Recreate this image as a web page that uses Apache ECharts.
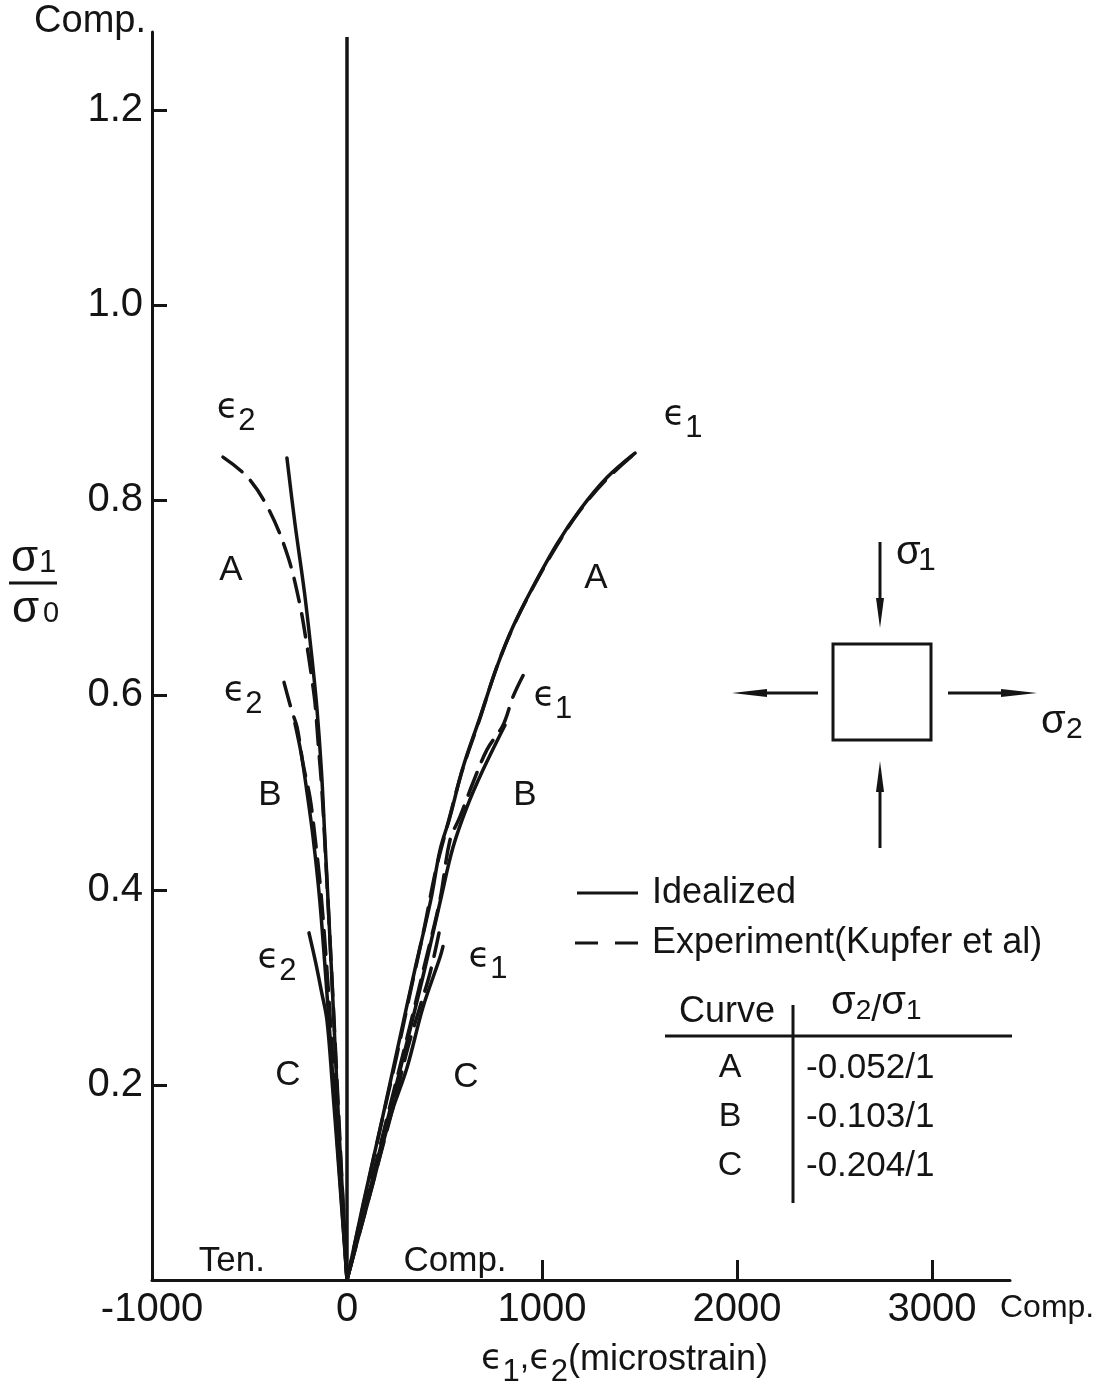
<!DOCTYPE html>
<html>
<head>
<meta charset="utf-8">
<title>Biaxial stress-strain curves</title>
<script src="https://cdn.jsdelivr.net/npm/echarts@6/dist/echarts.min.js"></script>
<style>
  html, body { margin: 0; padding: 0; background: #fff; }
  #chart { width: 1097px; height: 1397px; }
</style>
</head>
<body>
<div id="chart"></div>
<script>
// strain (microstrain) vs sigma1/sigma0
const xTicks = [-1000, 0, 1000, 2000, 3000];
const yTicks = [0.2, 0.4, 0.6, 0.8, 1.0, 1.2];

// eps2 side (tension)
const aEps2Ideal = [[-308,0.843],[-267,0.776],[-218,0.705],[-182,0.642],[-155,0.588],[-131,0.522],[-113,0.451],[-90,0.36],[-66,0.26],[-40,0.15],[-18,0.07],[0,0]];
const aEps2Exp = [[-636,0.844],[-508,0.823],[-395,0.788],[-303,0.742],[-243,0.694],[-205,0.650],[-179,0.615],[-164,0.592],[-149,0.554],[-128,0.50],[-106,0.42],[-80,0.32],[-55,0.22],[-28,0.11],[0,0]];
const bEps2Ideal = [[-267,0.571],[-235,0.54],[-205,0.50],[-174,0.454],[-140,0.39],[-105,0.30],[-70,0.20],[-35,0.10],[0,0]];
const bEps2Exp = [[-323,0.613],[-282,0.583],[-256,0.567],[-226,0.530],[-190,0.495],[-164,0.454],[-135,0.40],[-100,0.31],[-68,0.21],[-34,0.105],[0,0]];
const cEps2Ideal = [[-195,0.356],[-160,0.325],[-130,0.295],[-103,0.267],[-75,0.20],[-48,0.13],[-22,0.06],[0,0]];

// eps1 side (compression)
const aEps1Ideal = [[1477,0.848],[1333,0.823],[1195,0.790],[1077,0.755],[954,0.711],[851,0.670],[769,0.629],[682,0.577],[595,0.526],[528,0.475],[477,0.441],[430,0.39],[350,0.32],[262,0.24],[175,0.16],[85,0.08],[0,0]];
const aEps1Exp = [[1460,0.845],[1330,0.821],[1190,0.788],[1075,0.753],[950,0.709],[848,0.668],[765,0.627],[680,0.575],[590,0.522],[520,0.47],[455,0.42],[395,0.36],[330,0.30],[255,0.23],[170,0.155],[85,0.078],[0,0]];
const bEps1Ideal = [[810,0.569],[697,0.523],[615,0.485],[544,0.444],[480,0.39],[400,0.32],[315,0.25],[215,0.17],[110,0.087],[0,0]];
const bEps1Exp = [[903,0.62],[851,0.598],[800,0.569],[718,0.544],[646,0.510],[579,0.475],[528,0.451],[477,0.39],[400,0.325],[310,0.25],[210,0.17],[105,0.085],[0,0]];
const cEps1Ideal = [[492,0.342],[477,0.331],[390,0.28],[308,0.218],[221,0.167],[133,0.099],[60,0.045],[0,0]];
const cEps1Exp = [[472,0.356],[426,0.315],[374,0.280],[313,0.239],[240,0.18],[160,0.12],[80,0.06],[0,0]];

const zeroLine = [[0,0],[0,1.275]];

const tableCurves = ['A', 'B', 'C'];
const tableRatios = ['-0.052/1', '-0.103/1', '-0.204/1'];

// text placed on the plot, in data units
const notes = [
  [-569, 0.881, '{e|ϵ}{s|2}'],
  [-595, 0.728, '{t|A}'],
  [-533, 0.590, '{e|ϵ}{s|2}'],
  [-395, 0.497, '{t|B}'],
  [-359, 0.316, '{e|ϵ}{s|2}'],
  [-303, 0.210, '{t|C}'],
  [1723, 0.873, '{e|ϵ}{s|1}'],
  [1277, 0.720, '{t|A}'],
  [1056, 0.585, '{e|ϵ}{s|1}'],
  [913, 0.497, '{t|B}'],
  [723, 0.318, '{e|ϵ}{s|1}'],
  [610, 0.208, '{t|C}'],
  [-590, 0.0195, '{t|Ten.}'],
  [554, 0.0195, '{t|Comp.}']
];

const ink = '#141414';
const font = '"Liberation Sans", Arial, sans-serif';
const epsFont = '"DejaVu Sans", sans-serif';

const subRich = {
  e: { fontFamily: epsFont, fontSize: 35, lineHeight: 30, verticalAlign: 'top', color: ink },
  s: { fontFamily: font, fontSize: 31, lineHeight: 60, color: ink },
  t: { fontFamily: font, fontSize: 35, color: ink },
  c: { fontFamily: font, fontSize: 34, lineHeight: 40, verticalAlign: 'top', color: ink }
};

const curve = (name, data, dashed) => ({
  name,
  type: 'line',
  data,
  smooth: 0.35,
  symbol: 'none',
  silent: true,
  lineStyle: { color: ink, width: 3.5, type: dashed ? [24, 12] : 'solid', cap: 'round', join: 'round' }
});

const txt = (x, y, text, size, extra) => ({
  type: 'text',
  silent: true,
  style: Object.assign({
    x, y, text,
    fill: ink,
    fontFamily: font,
    fontSize: size,
    align: 'left',
    verticalAlign: 'middle'
  }, extra || {})
});
const seg = (x1, y1, x2, y2, w) => ({
  type: 'line',
  silent: true,
  shape: { x1, y1, x2, y2 },
  style: { stroke: ink, lineWidth: w || 3 }
});
const head = (pts) => ({
  type: 'polygon',
  silent: true,
  shape: { points: pts },
  style: { fill: ink }
});

const graphics = [
  // y axis title
  txt(11, 559, 'σ', 44),
  txt(39, 563, '1', 31),
  seg(9, 583, 57, 583),
  txt(12, 610, 'σ', 44),
  txt(43, 614, '0', 29),
  // axis end words
  txt(146, 22, 'Comp.', 38, { align: 'right' }),
  txt(1000, 1308, 'Comp.', 32),
  // x axis title
  txt(481, 1372, '{e|ϵ}{s|1}{c|,}{e|ϵ}{s|2}{t|(microstrain)}', 34, { rich: Object.assign({}, subRich, { t: { fontFamily: font, fontSize: 36, lineHeight: 40, verticalAlign: 'top', color: ink } }) }),
  // legend
  seg(577, 893, 638, 893),
  txt(652, 893, 'Idealized', 36),
  seg(575, 943, 598, 943),
  seg(615, 943, 638, 943),
  txt(652, 943, 'Experiment(Kupfer et al)', 36),
  // table
  txt(727, 1012, 'Curve', 36, { align: 'center' }),
  txt(831, 1011, '{g|σ}{s|2}{t|/}{g|σ}{s|1}', 36, { rich: {
    g: { fontFamily: font, fontSize: 40, lineHeight: 30, verticalAlign: 'top', color: ink },
    s: { fontFamily: font, fontSize: 28, lineHeight: 56, color: ink },
    t: { fontFamily: font, fontSize: 36, lineHeight: 56, color: ink }
  } }),
  seg(665, 1036, 1012, 1036),
  seg(793, 1005, 793, 1203),
  // stress element diagram
  {
    type: 'rect', silent: true,
    shape: { x: 833, y: 644, width: 98, height: 96 },
    style: { fill: 'none', stroke: ink, lineWidth: 3 }
  },
  seg(880, 542, 880, 600),
  head([[876, 598], [884, 598], [880, 628]]),
  seg(880, 848, 880, 790),
  head([[876, 792], [884, 792], [880, 761]]),
  seg(818, 693, 765, 693),
  head([[767, 689], [767, 697], [732, 693]]),
  seg(948, 693, 1003, 693),
  head([[1001, 689], [1001, 697], [1037, 693]]),
  txt(896, 553, 'σ', 40),
  txt(918, 561, '1', 32),
  txt(1041, 722, 'σ', 40),
  txt(1066, 730, '2', 30)
];

tableCurves.forEach((c, i) => {
  const y = 1068 + i * 49;
  graphics.push(txt(730, y, c, 34, { align: 'center' }));
  graphics.push(txt(806, y, tableRatios[i], 35));
});

const chart = echarts.init(document.getElementById('chart'), null, { renderer: 'canvas' });

chart.setOption({
  animation: false,
  backgroundColor: '#fff',
  grid: { left: 152, right: 87, top: 32, bottom: 117 },
  xAxis: {
    type: 'value',
    min: -1000,
    max: 3400,
    interval: 1000,
    axisLine: { onZero: false, lineStyle: { color: ink, width: 3 } },
    axisTick: { show: true, inside: true, length: 20, lineStyle: { color: ink, width: 3 }, customValues: [1000, 2000, 3000] },
    axisLabel: { customValues: xTicks, fontSize: 40, fontFamily: font, color: ink, margin: 10, formatter: v => String(v) },
    splitLine: { show: false }
  },
  yAxis: {
    type: 'value',
    min: 0,
    max: 1.28,
    axisLine: { show: true, onZero: false, lineStyle: { color: ink, width: 3 } },
    axisTick: { show: true, inside: true, length: 15, lineStyle: { color: ink, width: 3 }, customValues: yTicks },
    axisLabel: { customValues: yTicks, fontSize: 40, fontFamily: font, color: ink, margin: 9, formatter: v => v.toFixed(1) },
    splitLine: { show: false }
  },
  series: [
    { type: 'line', data: zeroLine, symbol: 'none', silent: true, lineStyle: { color: ink, width: 3.5 } },
    curve('A eps2 idealized', aEps2Ideal, false),
    curve('A eps2 experiment', aEps2Exp, true),
    curve('B eps2 idealized', bEps2Ideal, false),
    curve('B eps2 experiment', bEps2Exp, true),
    curve('C eps2 idealized', cEps2Ideal, false),
    curve('A eps1 idealized', aEps1Ideal, false),
    curve('A eps1 experiment', aEps1Exp, true),
    curve('B eps1 idealized', bEps1Ideal, false),
    curve('B eps1 experiment', bEps1Exp, true),
    curve('C eps1 idealized', cEps1Ideal, false),
    curve('C eps1 experiment', cEps1Exp, true),
    {
      type: 'scatter',
      data: notes.map(n => [n[0], n[1]]),
      symbolSize: 1,
      silent: true,
      itemStyle: { color: 'rgba(0,0,0,0)', opacity: 1 },
      label: {
        show: true,
        position: 'inside',
        color: ink,
        opacity: 1,
        formatter: p => notes[p.dataIndex][2],
        rich: subRich
      }
    }
  ],
  graphic: graphics
});
</script>
</body>
</html>
